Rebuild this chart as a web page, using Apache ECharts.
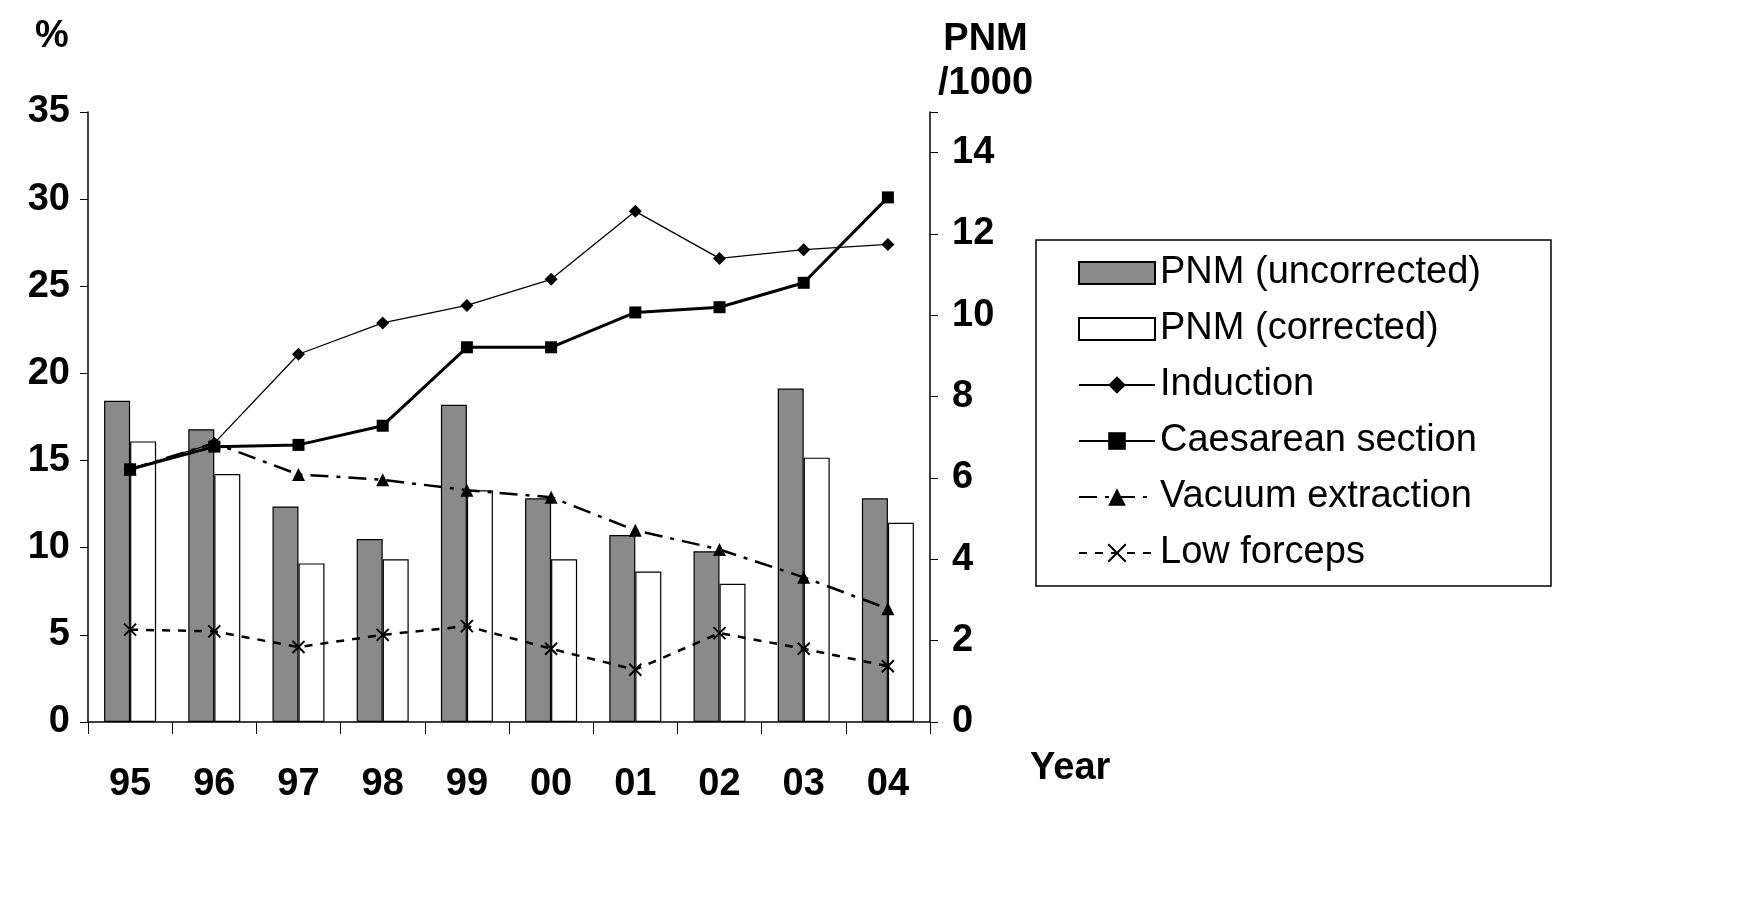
<!DOCTYPE html>
<html><head><meta charset="utf-8">
<script src="https://cdn.jsdelivr.net/npm/echarts@6/dist/echarts.min.js"></script>
<style>html,body{margin:0;background:#fff}#c{width:1756px;height:906px}</style>
</head><body><div id="c"></div>
<script>
const years = ['95','96','97','98','99','00','01','02','03','04'];
const pnmUncorrected = [7.9, 7.2, 5.3, 4.5, 7.8, 5.5, 4.6, 4.2, 8.2, 5.5];
const pnmCorrected = [6.9, 6.1, 3.9, 4.0, 5.7, 4.0, 3.7, 3.4, 6.5, 4.9];
const induction = [14.5, 16.0, 21.1, 22.9, 23.9, 25.4, 29.3, 26.6, 27.1, 27.4];
const caesarean = [14.5, 15.8, 15.9, 17.0, 21.5, 21.5, 23.5, 23.8, 25.2, 30.1];
const vacuum = [14.5, 16.0, 14.2, 13.9, 13.3, 12.9, 11.0, 9.9, 8.3, 6.5];
const lowForceps = [5.3, 5.2, 4.3, 5.0, 5.5, 4.2, 3.0, 5.1, 4.2, 3.2];

const F = 'Liberation Sans, Arial, sans-serif';
const lab = {fontFamily:F, fontSize:38, fontWeight:'bold', color:'#000'};
const chart = echarts.init(document.getElementById('c'));
chart.setOption({
  animation:false,
  grid:{left:88, right:826, top:112, bottom:184},
  legend:{
    orient:'vertical', left:1036, top:240,
    padding:[14,70,14,42], itemGap:18, itemWidth:76, itemHeight:22,
    borderColor:'#000', borderWidth:1.5, backgroundColor:'#fff',
    textStyle:{fontFamily:F, fontSize:38, color:'#000'},
    data:[{name:'PNM (uncorrected)',icon:'rect'},{name:'PNM (corrected)',icon:'rect'},'Induction','Caesarean section','Vacuum extraction','Low forceps']
  },
  graphic:[
    {type:'text', left:35, top:18, style:{text:'%', font:'bold 38px '+F, fill:'#000'}},
    {type:'text', left:938, top:18, style:{text:'PNM\n/1000', font:'bold 38px '+F, fill:'#000', lineHeight:44, textAlign:'center', x:50}},
    {type:'text', left:1030, top:750, style:{text:'Year', font:'bold 38px '+F, fill:'#000'}}
  ],
  xAxis:{type:'category', data:years,
    axisLine:{lineStyle:{color:'#000', width:1.5}},
    axisTick:{show:true, length:12, lineStyle:{color:'#000'}},
    axisLabel:Object.assign({margin:44}, lab)},
  yAxis:[
    {type:'value', min:0, max:35, interval:5, splitLine:{show:false},
     axisLine:{show:true, lineStyle:{color:'#000', width:1.5}},
     axisTick:{show:true, length:8, lineStyle:{color:'#000'}},
     axisLabel:Object.assign({margin:18}, lab)},
    {type:'value', min:0, max:15, interval:2, splitLine:{show:false},
     axisLine:{show:true, lineStyle:{color:'#000', width:1.5}},
     axisTick:{show:true, length:8, lineStyle:{color:'#000'}},
     axisLabel:Object.assign({margin:22, formatter:v=>v>14?'':v}, lab)}
  ],
  series:[
    {name:'PNM (uncorrected)', type:'bar', yAxisIndex:1, data:pnmUncorrected, barWidth:26, barGap:'0%',
     itemStyle:{color:'#8a8a8a', borderColor:'#000', borderWidth:1.2}},
    {name:'PNM (corrected)', type:'bar', yAxisIndex:1, data:pnmCorrected, barWidth:26,
     itemStyle:{color:'#fff', borderColor:'#000', borderWidth:1.2}},
    {name:'Induction', type:'line', data:induction, symbol:'diamond', symbolSize:13,
     lineStyle:{color:'#000', width:1.3}, itemStyle:{color:'#000'}},
    {name:'Caesarean section', type:'line', data:caesarean, symbol:'rect', symbolSize:12,
     lineStyle:{color:'#000', width:3}, itemStyle:{color:'#000'}},
    {name:'Vacuum extraction', type:'line', data:vacuum, symbol:'triangle', symbolSize:13,
     lineStyle:{color:'#000', width:2.5, type:[18,8,4,8]}, itemStyle:{color:'#000'}},
    {name:'Low forceps', type:'line', data:lowForceps, symbol:'path://M0,0L10,10M10,0L0,10', symbolSize:12,
     lineStyle:{color:'#000', width:2.5, type:[8,8]}, itemStyle:{color:'#000', borderColor:'#000', borderWidth:2}}
  ]
});
</script></body></html>
